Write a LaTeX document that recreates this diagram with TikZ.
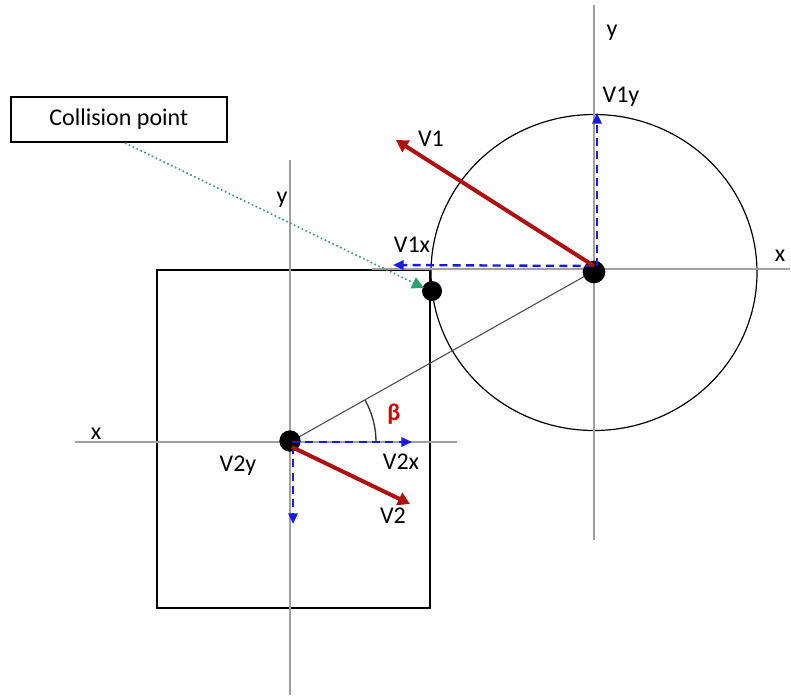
\documentclass[tikz,border=0pt]{standalone}
\usepackage{fontspec}
\setmainfont{Carlito}
\usetikzlibrary{arrows.meta}
\definecolor{axisgray}{HTML}{A0A0A0}
\definecolor{vred}{HTML}{B01010}
\definecolor{vblue}{HTML}{1A1AE6}
\definecolor{dotgreen}{HTML}{2EA070}
\tikzset{
  axis/.style={axisgray, line width=1.5pt},
  outline/.style={black, line width=1pt},
  redvec/.style={vred, line width=3pt, -{Triangle[length=9pt,width=10pt]}},
  bluevec/.style={vblue, line width=1.8pt, dash pattern=on 6pt off 4pt, -{Triangle[length=8pt,width=7pt]}},
  lbl/.style={font=\fontsize{18}{20}\selectfont, inner sep=0pt},
  ball/.style={circle, fill=black, inner sep=0pt},
}
\begin{document}
\begin{tikzpicture}[x=0.75pt, y=-0.75pt]
\useasboundingbox (0,0) rectangle (791,697);
% key points
\coordinate (c1) at (594,271);
\coordinate (c2) at (290,442);
% square
\draw[outline] (157,270) rectangle (430,608);
% circle
\draw[outline, line width=0.9pt] (594,272.5) ellipse [x radius=163, y radius=158];
% axes
\coordinate (a1t) at (594,5); \coordinate (a1b) at (594,540);
\coordinate (a1l) at (372,269); \coordinate (a1r) at (790,269);
\coordinate (a2t) at (290,160); \coordinate (a2b) at (290,695);
\coordinate (a2l) at (75,442); \coordinate (a2r) at (457,442);
\draw[axis] (a1t) -- (a1b);
\draw[axis] (a1l) -- (a1r);
\draw[axis] (a2t) -- (a2b);
\draw[axis] (a2l) -- (a2r);
% line of centers
\draw[black!70, line width=0.8pt] (c2) -- (c1);
% angle arc
\draw[black!80, line width=1pt] ([shift={(0:86)}]c2) arc[start angle=0, end angle=-29.2, radius=86];
% collision box
\node[draw, line width=1.2pt, minimum width=162pt, minimum height=34pt, lbl, anchor=north west] (box) at (10,96) {Collision point};
% balls
\node[ball, minimum size=17pt] (b1) at (594,272) {};
\node[ball, minimum size=16pt] (b2) at (290,441) {};
\node[ball, minimum size=15pt] (col) at (432,291) {};
% dotted green pointer
\coordinate (boxpt) at (125,143);
\coordinate (colpt) at (424,288);
\draw[dotgreen, line width=1.2pt, dotted, -{Triangle[length=9pt,width=9pt]}] (boxpt) -- (colpt);
% vector tips
\coordinate (v1tip) at (396,140);
\coordinate (v1xtip) at (393,265);
\coordinate (v1ytip) at (597,113);
\coordinate (v2tip) at (410,504);
\coordinate (v2xtip) at (412,442);
\coordinate (v2ytip) at (293,524);
\coordinate (v1o) at (594,266);
\coordinate (v1yo) at (597,266);
\coordinate (v2o) at (292,442);
\coordinate (v2yo) at (293,446);
\coordinate (v2ro) at (292,447);
% blue components
\draw[bluevec] (v1o) -- (v1xtip);
\draw[bluevec] (v1yo) -- (v1ytip);
\draw[bluevec] (v2o) -- (v2xtip);
\draw[bluevec] (v2yo) -- (v2ytip);
% red vectors
\draw[redvec] (v1o) -- (v1tip);
\draw[redvec] (v2ro) -- (v2tip);
% labels
\node[lbl] (ly1) at (612,33) {y};
\node[lbl] (lx1) at (780,256) {x};
\node[lbl] (ly2) at (282,200) {y};
\node[lbl] (lx2) at (96,434) {x};
\node[lbl] (lV1) at (431,139) {V1};
\node[lbl] (lV1x) at (412,245) {V1x};
\node[lbl] (lV1y) at (621,97) {V1y};
\node[lbl] (lV2) at (393,516) {V2};
\node[lbl] (lV2x) at (401,462) {V2x};
\node[lbl] (lV2y) at (238,466) {V2y};
\node[lbl, text=red!85!black, font=\fontsize{18}{20}\selectfont\bfseries] (lbeta) at (394,414) {β};
\end{tikzpicture}
\end{document}
